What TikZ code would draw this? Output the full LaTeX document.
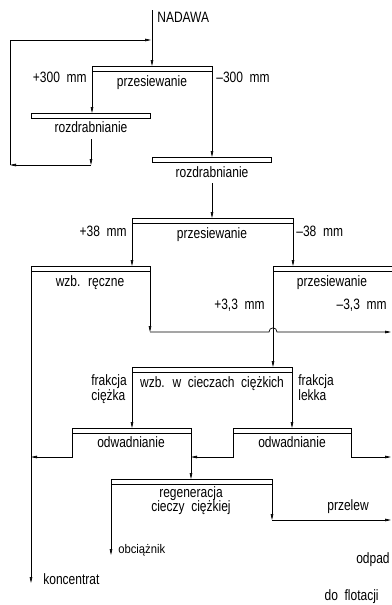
\documentclass[tikz,border=0pt]{standalone}
\usepackage{fontspec}
\setmainfont{Liberation Sans}[FakeStretch=0.8,WordSpace=2]
\newfontfamily\notefont{Liberation Sans}[FakeStretch=0.9]
\usetikzlibrary{arrows.meta}

\begin{document}
\begin{tikzpicture}[x=1pt,y=-1pt,
  line width=0.7pt,
  >={Triangle[length=6pt,width=2.6pt]},
  bar/.style={draw,fill=white,line width=0.8pt,minimum height=5pt,
    inner sep=0pt,outer sep=0pt,anchor=north west},
  lab/.style={inner sep=0pt,font=\fontsize{15}{17}\selectfont},
  twoline/.style={inner sep=0pt,align=left,font=\fontsize{15}{13}\selectfont},
  small/.style={inner sep=0pt,font=\notefont\fontsize{12.5}{14}\selectfont},
  flow/.style={->}
]
\useasboundingbox (0,0) rectangle (391,605);

% process bars (apparatus)
\node[bar,minimum width=120pt] (b1)  at (92,66)   {};
\node[bar,minimum width=119pt] (b2)  at (31,113)  {};
\node[bar,minimum width=119pt] (b3)  at (152,157) {};
\node[bar,minimum width=161pt] (b4)  at (132,218) {};
\node[bar,minimum width=119pt] (b5)  at (31,266)  {};
\node[bar,minimum width=122pt] (b6)  at (273,266) {};
\node[bar,minimum width=160pt] (b7)  at (132,367) {};
\node[bar,minimum width=119pt] (b8)  at (72,428)  {};
\node[bar,minimum width=118pt] (b9)  at (233,428) {};
\node[bar,minimum width=161pt] (b10) at (111,479) {};

% operation names under the bars
\node[lab,anchor=base] (t1)  at (152,86)  {przesiewanie};
\node[lab,anchor=base] (t2)  at (91,132)  {rozdrabnianie};
\node[lab,anchor=base] (t3)  at (212,177) {rozdrabnianie};
\node[lab,anchor=base] (t4)  at (212,238) {przesiewanie};
\node[lab,anchor=base] (t5)  at (90,286)  {wzb. ręczne};
\node[lab,anchor=base] (t6)  at (332,286) {przesiewanie};
\node[lab,anchor=base] (t7)  at (212,387) {wzb. w cieczach ciężkich};
\node[lab,anchor=base] (t8)  at (131,447) {odwadnianie};
\node[lab,anchor=base] (t9)  at (292,447) {odwadnianie};
\node[lab,anchor=base] (t10) at (191,497) {regeneracja};
\node[lab,anchor=base] (t11) at (191,511) {cieczy ciężkiej};

% stream labels
\node[lab,anchor=base west] (nad) at (157,23)  {NADAWA};
\node[lab,anchor=base east] (p300) at (87,82)  {+300 mm};
\node[lab,anchor=base west] (m300) at (216,82) {--300 mm};
\node[lab,anchor=base east] (p38) at (127,236) {+38 mm};
\node[lab,anchor=base west] (m38) at (296,236) {--38 mm};
\node[lab,anchor=base east] (p33) at (265,309) {+3,3 mm};
\node[lab,anchor=base east] (m33) at (387,309) {--3,3 mm};
\node[twoline,anchor=base west] (fc) at (91,400)  {frakcja\\ciężka};
\node[twoline,anchor=base west] (fl) at (298,400) {frakcja\\lekka};
\node[lab,anchor=base west] (prz) at (327,510) {przelew};
\node[small,anchor=base west] (obc) at (118,553) {obciążnik};
\node[lab,anchor=base east] (odp) at (390,563) {odpad};
\node[lab,anchor=base east] (flo) at (379,600) {do flotacji};
\node[lab,anchor=base west] (kon) at (43,584)  {koncentrat};

% free ends and turning points of the streams
\coordinate (feed)  at (152,10);
\coordinate (ret)   at (152,40);
\coordinate (o2)    at (91,139);
\coordinate (o2d)   at (91,165);
\coordinate (lp)    at (10,165);
\coordinate (o3)    at (212,183);
\coordinate (w1)    at (150,332);
\coordinate (w2)    at (391,332);
\coordinate (kend)  at (31,583);
\coordinate (e1)    at (31,457);
\coordinate (e2)    at (191,457);
\coordinate (e3)    at (391,457);
\coordinate (pz)    at (272,520);
\coordinate (pzend) at (391,520);
\coordinate (oend)  at (111,555);

% feed and crushing circuit
\draw[flow] (feed) -- (b1.north);
\draw[flow] (b1.south west) -- (b1.south west |- b2.north);
\draw[flow] (o2) -- (o2d);
\draw[flow] (o2d) -- (lp);
\draw[flow] (lp) |- ([xshift=-1pt]ret);
\draw[flow] (b1.south east) -- (b1.south east |- b3.north);
\draw[flow] (o3) -- (o3 |- b4.north);

% second screening
\draw[flow] (b4.south west) -- (b4.south west |- b5.north);
\draw[flow] (b4.south east) -- (b4.south east |- b6.north);

% hand sorting tailings, hopping over the fine stream
\draw[flow] (b5.south east) -- (w1);
\draw[flow] (w1) -- (269,332) .. controls (269,326.5) and (277,326.5) .. (277,332) -- (w2);
\draw[flow] (b5.south west) -- (kend);

% heavy media separation
\draw[flow] (b6.south west) -- (b6.south west |- b7.north);
\draw[flow] (b7.south west) -- (b7.south west |- b8.north);
\draw[flow] (b7.south east) -- (b7.south east |- b8.north);

% dewatering
\draw[flow] (b8.south west) |- (e1);
\draw[flow] (b8.south east) -- (b8.south east |- b10.north);
\draw[flow] (b9.south west) |- (e2);
\draw[flow] (b9.south east) |- (e3);

% medium regeneration
\draw[flow] (b10.south east) -- (pz);
\draw[flow] (pz) -- (pzend);
\draw[flow] (b10.south west) -- (oend);
\end{tikzpicture}
\end{document}
